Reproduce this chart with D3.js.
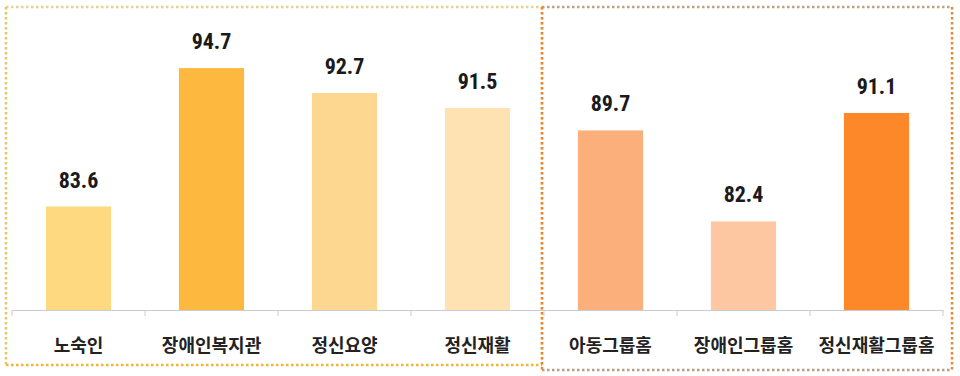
<!DOCTYPE html>
<html>
<head>
<meta charset="utf-8">
<script src="https://cdn.jsdelivr.net/npm/d3@7"></script>
<style>
  body { margin: 0; background: #fff; }
  .val { font-family: "Liberation Sans Narrow", "Roboto Condensed", "Liberation Sans", sans-serif; font-weight: bold; font-size: 22px; fill: #1a1a1a; }
  .cat text { font-family: "Noto Sans CJK KR", sans-serif; font-weight: bold; font-size: 18px; fill: #222; }
</style>
</head>
<body>
<div class="chart"></div>
<script>
// categories and values
var categories = ["노숙인", "장애인복지관", "정신요양", "정신재활", "아동그룹홈", "장애인그룹홈", "정신재활그룹홈"];
var values = [83.6, 94.7, 92.7, 91.5, 89.7, 82.4, 91.1];
var colors = ["#FFD980", "#FDB840", "#FDD68F", "#FEE2B2", "#FBB07B", "#FCC7A1", "#FD8829"];
// the two dotted groups (first 4 facilities / 3 group homes)
var groups = [categories.slice(0, 4), categories.slice(4)];

var svgWidth = 960;
var svgHeight = 376;

var svg = d3.select(".chart")
    .append("svg")
    .attr("width", svgWidth)
    .attr("height", svgHeight);

var data = categories.map(function (c, i) {
    return { cat: c, value: values[i], color: colors[i] };
});

// scales
var x = d3.scaleBand()
    .domain(categories)
    .range([12, 943])
    .paddingInner(0.51)
    .paddingOuter(0.255);

var y = d3.scaleLinear()
    .domain([75.3, 100])
    .range([310, 2]);

// bars
svg.selectAll("rect.bar")
    .data(data)
    .enter()
    .append("rect")
    .attr("class", "bar")
    .attr("x", d => x(d.cat))
    .attr("y", d => y(d.value))
    .attr("width", x.bandwidth())
    .attr("height", d => y.range()[0] - y(d.value))
    .attr("fill", d => d.color);

// value labels
svg.selectAll("text.val")
    .data(data)
    .enter()
    .append("text")
    .attr("class", "val")
    .attr("x", d => x(d.cat) + x.bandwidth() / 2)
    .attr("y", d => y(d.value) - 19)
    .attr("text-anchor", "middle")
    .text(d => d.value.toFixed(1));

// x axis
var axis = svg.append("g")
    .attr("class", "cat")
    .attr("transform", `translate(0, ${y.range()[0]})`)
    .call(d3.axisBottom(x).tickSize(0).tickSizeOuter(0).tickPadding(29));

axis.select(".domain").attr("stroke", "#c9ccd2");
axis.selectAll(".tick text").attr("dy", "0.71em");

// tick marks between categories
var gap = (x.step() - x.bandwidth()) / 2;
var edges = categories.map(c => x(c) - gap).concat([x.range()[1]]);
axis.selectAll("line.sep")
    .data(edges)
    .enter()
    .append("line")
    .attr("class", "sep")
    .attr("x1", d => d)
    .attr("x2", d => d)
    .attr("y1", 0)
    .attr("y2", 6)
    .attr("stroke", "#c9ccd2");

// dotted group boxes
function boxSides(g, x0, x1, y0, y1, sideColor, topColor, bottomColor) {
    var sides = [
        [x0, y0, x1, y0, topColor],
        [x0, y1, x1, y1, bottomColor],
        [x0, y0, x0, y1, sideColor],
        [x1, y0, x1, y1, sideColor]
    ];
    g.selectAll("line")
        .data(sides)
        .enter()
        .append("line")
        .attr("x1", d => d[0])
        .attr("y1", d => d[1])
        .attr("x2", d => d[2])
        .attr("y2", d => d[3])
        .attr("stroke", d => d[4])
        .attr("stroke-width", 2.5)
        .attr("stroke-dasharray", "2.5,2.5");
}

var left = groups[0], right = groups[1];
boxSides(svg.append("g"),
    x(left[0]) - gap - 6, x(left[left.length - 1]) + x.bandwidth() + gap - 2,
    7, 365, "#E8C560", "#E6D28A", "#F4B52E");
boxSides(svg.append("g"),
    x(right[0]) - gap - 2, x(right[right.length - 1]) + x.bandwidth() + gap + 9,
    7, 370, "#EC8630", "#C4A07E", "#B89C84");
</script>
</body>
</html>
